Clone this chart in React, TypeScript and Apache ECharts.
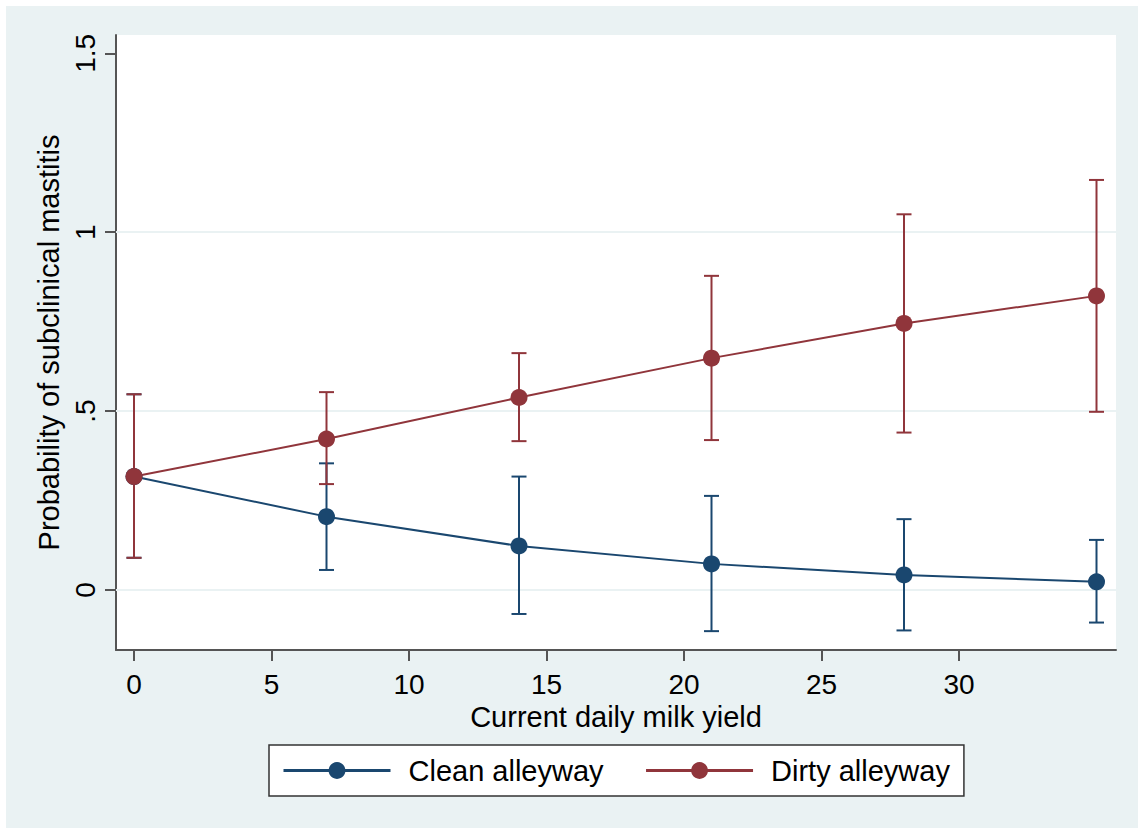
import React, { useEffect, useRef } from 'react';
import * as echarts from 'echarts';

const xValues = [0, 7, 14, 21, 28, 35];
const cleanMean = [0.317, 0.205, 0.123, 0.073, 0.042, 0.023];
const cleanLow = [0.090, 0.056, -0.067, -0.115, -0.113, -0.091];
const cleanHigh = [0.547, 0.354, 0.317, 0.263, 0.198, 0.140];
const dirtyMean = [0.317, 0.422, 0.538, 0.648, 0.745, 0.822];
const dirtyLow = [0.090, 0.296, 0.416, 0.419, 0.440, 0.498];
const dirtyHigh = [0.547, 0.553, 0.662, 0.878, 1.050, 1.146];

const xTicks = [0, 5, 10, 15, 20, 25, 30];
const yTicks = [0, 0.5, 1, 1.5];
const yTickLabels = ['0', '.5', '1', '1.5'];
const gridValues = [0, 0.5, 1];

const seriesNames = ['Clean alleyway', 'Dirty alleyway'];

const BLUE = '#1a476f';
const RED = '#90353b';
const BG = '#eaf2f3';
const AXIS = '#555555';
const FONT = '"Liberation Sans", Arial, sans-serif';

function errorBarSeries(name: string, low: number[], high: number[], color: string) {
  return {
    type: 'custom',
    name,
    silent: true,
    z: 2,
    encode: { x: 0, y: [1, 2] },
    data: xValues.map((x, i) => [x, low[i], high[i]]),
    renderItem: (params: any, api: any) => {
      const x = api.value(0);
      const pLo = api.coord([x, api.value(1)]);
      const pHi = api.coord([x, api.value(2)]);
      const hw = 7.5;
      const style = { stroke: color, lineWidth: 2, fill: 'none' };
      return {
        type: 'group',
        children: [
          { type: 'line', shape: { x1: pLo[0], y1: pLo[1], x2: pHi[0], y2: pHi[1] }, style },
          { type: 'line', shape: { x1: pLo[0] - hw, y1: pLo[1], x2: pLo[0] + hw, y2: pLo[1] }, style },
          { type: 'line', shape: { x1: pHi[0] - hw, y1: pHi[1], x2: pHi[0] + hw, y2: pHi[1] }, style },
        ],
      };
    },
  };
}

function lineSeries(name: string, values: number[], color: string) {
  return {
    type: 'line',
    name,
    z: 3,
    data: xValues.map((x, i) => [x, values[i]]),
    symbol: 'circle',
    symbolSize: 17,
    itemStyle: { color },
    lineStyle: { color, width: 2 },
    emphasis: { disabled: true },
  };
}

export default function App() {
  const ref = useRef<HTMLDivElement>(null);

  useEffect(() => {
    if (!ref.current) return;
    const chart = echarts.init(ref.current, null, { renderer: 'svg' });
    chart.setOption({
      animation: false,
      backgroundColor: BG,
      textStyle: { fontFamily: FONT },
      grid: {
        left: 110,
        top: 29,
        right: 22,
        bottom: 178,
        show: true,
        backgroundColor: '#ffffff',
        borderWidth: 0,
      },
      legend: {
        data: seriesNames,
        left: 263,
        top: 739,
        orient: 'horizontal',
        backgroundColor: '#ffffff',
        borderColor: '#333333',
        borderWidth: 1.5,
        borderRadius: 0,
        padding: [11, 14, 11, 13],
        itemWidth: 107,
        itemHeight: 21,
        itemGap: 41,
        lineStyle: { width: 3 },
        textStyle: { fontSize: 29, color: '#000', fontFamily: FONT, padding: [0, 0, 0, 13] },
        selectedMode: false,
      },
      xAxis: {
        type: 'value',
        min: -0.6545,
        max: 35.709,
        name: 'Current daily milk yield',
        nameLocation: 'middle',
        nameGap: 47,
        nameTextStyle: { fontSize: 29, color: '#000', fontFamily: FONT },
        axisLine: { show: true, onZero: false, lineStyle: { color: AXIS, width: 2 } },
        axisTick: { show: true, length: 11, customValues: xTicks, lineStyle: { color: AXIS, width: 2 } },
        axisLabel: { customValues: xTicks, fontSize: 28, color: '#000', margin: 20, fontFamily: FONT },
        splitLine: { show: false },
      },
      yAxis: {
        type: 'value',
        min: -0.1677,
        max: 1.5511,
        name: 'Probability of subclinical mastitis',
        nameLocation: 'middle',
        nameGap: 52,
        nameRotate: 90,
        nameTextStyle: { fontSize: 29, color: '#000', fontFamily: FONT },
        axisLine: { show: true, onZero: false, lineStyle: { color: AXIS, width: 2 } },
        axisTick: { show: true, length: 11, customValues: yTicks, lineStyle: { color: AXIS, width: 2 } },
        axisLabel: {
          customValues: yTicks,
          rotate: 90,
          fontSize: 28,
          color: '#000',
          margin: 17,
          fontFamily: FONT,
          formatter: (v: number) => {
            const i = yTicks.findIndex((t) => Math.abs(t - v) < 1e-9);
            return i >= 0 ? yTickLabels[i] : '';
          },
        },
        splitLine: { show: false },
      },
      series: [
        {
          type: 'line',
          name: 'grid',
          data: [],
          silent: true,
          z: 1,
          markLine: {
            silent: true,
            z: 1,
            symbol: 'none',
            label: { show: false },
            emphasis: { disabled: true },
            lineStyle: { color: BG, width: 2, type: 'solid' },
            data: gridValues.map((v) => ({ yAxis: v })),
          },
        },
        errorBarSeries('Clean CI', cleanLow, cleanHigh, BLUE),
        errorBarSeries('Dirty CI', dirtyLow, dirtyHigh, RED),
        lineSeries(seriesNames[0], cleanMean, BLUE),
        lineSeries(seriesNames[1], dirtyMean, RED),
      ],
    });
    return () => chart.dispose();
  }, []);

  return (
    <div style={{ position: 'fixed', left: 0, top: 0, width: 1138, height: 828, background: '#ffffff' }}>
      <div ref={ref} style={{ position: 'absolute', left: 6, top: 6, width: 1132, height: 822 }} />
    </div>
  );
}
